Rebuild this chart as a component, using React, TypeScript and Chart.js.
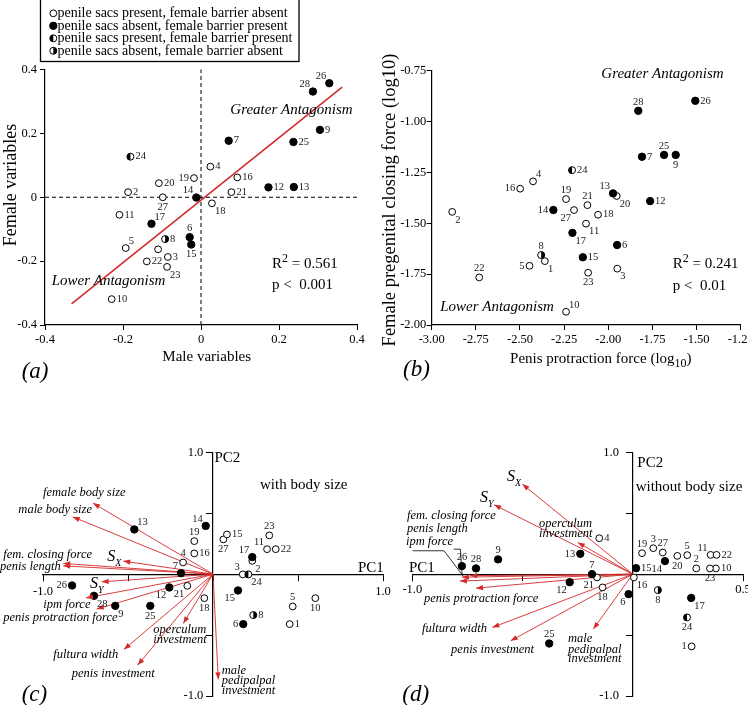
import React, { useEffect, useRef } from 'react';
import { Chart, registerables } from 'chart.js';

Chart.register(...registerables);

const FONT = "'Liberation Serif', 'Times New Roman', Times, serif";
const RED = '#d52a2a';
Chart.defaults.font.family = FONT;

// ===== legend =====
const legendLabels = [
  'penile sacs present, female barrier absent',
  'penile sacs absent, female barrier present',
  'penile sacs present, female barrier present',
  'penile sacs absent, female barrier absent',
];
const legendTypes = ['o', 'f', 'l', 'r'];

// ===== panel (a) =====
const aIds = ['1','2','3','4','5','6','7','8','9','10','11','12','13','14','15','16','17','18','19','20','21','22','23','24','25','26','27','28'];
const aX = [-0.110,-0.187,-0.085,0.024,-0.193,-0.029,0.071,-0.092,0.305,-0.229,-0.209,0.173,0.238,-0.012,-0.025,0.093,-0.127,0.028,-0.018,-0.108,0.078,-0.139,-0.087,-0.181,0.237,0.329,-0.098,0.287];
const aY = [-0.163,0.016,-0.187,0.096,-0.159,-0.125,0.177,-0.131,0.211,-0.319,-0.055,0.031,0.032,-0.001,-0.148,0.062,-0.083,-0.019,0.060,0.044,0.016,-0.201,-0.218,0.127,0.173,0.357,0.000,0.331];
const aTypes = ['o','o','o','o','o','f','f','r','f','o','o','f','f','f','f','o','f','o','o','o','o','o','o','l','f','f','o','f'];
const aLabelPos = ['-','r','r','r','tr','t','r','r','r','r','r','r','r','tl','b','r','tr','br','l','r','r','r','br','r','r','tl','b','tl'];
const aFitX = [-0.332, 0.362];
const aFitY = [-0.334, 0.345];
const aTickVals = [-0.4, -0.2, 0, 0.2, 0.4];
const aTickLabels = ['-0.4', '-0.2', '0', '0.2', '0.4'];

// ===== panel (b) =====
const bIds = aIds;
const bX = [-2.359,-2.884,-1.949,-2.426,-2.446,-1.950,-1.809,-2.380,-1.618,-2.239,-2.126,-1.763,-1.973,-2.311,-2.144,-2.499,-2.203,-2.058,-2.239,-1.952,-2.118,-2.731,-2.114,-2.205,-1.684,-1.507,-2.194,-1.830];
const bY = [-1.686,-1.444,-1.723,-1.294,-1.709,-1.607,-1.173,-1.656,-1.164,-1.935,-1.502,-1.391,-1.353,-1.435,-1.667,-1.330,-1.547,-1.458,-1.381,-1.366,-1.411,-1.766,-1.743,-1.239,-1.164,-0.898,-1.435,-0.947];
const bTypes = aTypes;
const bLabelPos = ['br','br','br','tr','l','r','r','t','b','tr','br','r','tl','l','r','l','br','r','t','br','t','t','b','r','t','r','bl','t'];
const bXTickVals = [-3, -2.75, -2.5, -2.25, -2, -1.75, -1.5, -1.25];
const bXTickLabels = ['-3.00', '-2.75', '-2.50', '-2.25', '-2.00', '-1.75', '-1.50', '-1.25'];
const bYTickVals = [-2, -1.75, -1.5, -1.25, -1, -0.75];
const bYTickLabels = ['-2.00', '-1.75', '-1.50', '-1.25', '-1.00', '-0.75'];

// ===== panel (c) =====
const cIds = ['1','2','3','4','5','6','7','8','9','10','11','12','13','14','15','16','17','18','19','21','22','23','24','25','26','27','28','15'];
const cX = [0.451,0.231,0.175,-0.176,0.469,0.178,-0.188,0.237,-0.575,0.602,0.318,-0.257,-0.463,-0.043,0.147,-0.110,0.231,-0.051,-0.110,-0.151,0.369,0.331,0.208,-0.369,-0.829,0.061,-0.700,0.082];
const cY = [-0.410,0.109,-0.002,0.096,-0.265,-0.410,0.008,-0.336,-0.260,-0.197,0.205,-0.109,0.367,0.396,-0.134,0.170,0.140,-0.197,0.271,-0.096,0.205,0.318,-0.002,-0.260,-0.093,0.285,-0.178,0.326];
const cTypes = ['o','o','o','o','o','f','f','r','f','o','o','f','f','f','f','o','f','o','o','o','o','o','l','f','f','o','f','o'];
const cLabelPos = ['r','br','tl','t','t','l','tl','r','br','b','tl','bl','tr','tl','bl','r','tl','b','t','bl','r','t','br','b','l','b','br','r'];
const cArrowNames = ['female body size','male body size','fem. closing force','penis length','SX','SY','ipm force','penis protraction force','operculum investment','fultura width','penis investment','male pedipalpal investment'];
const cArrowX = [-0.706,-0.825,-0.881,-0.881,-0.528,-0.655,-0.747,-0.684,-0.175,-0.524,-0.443,0.031];
const cArrowY = [0.583,0.470,0.088,0.068,0.107,-0.063,-0.195,-0.287,-0.405,-0.618,-0.747,-0.864];
const cXTickVals = [-1, -0.5, 0, 0.5, 1];
const cXTickLabels = ['-1.0', '', '', '', '1.0'];
const pcYTickVals = [-1, -0.5, 0, 0.5, 1];
const pcYTickLabels = ['-1.0', '', '', '', '1.0'];

// ===== panel (d) =====
const dIds = aIds;
const dX = [0.267,0.288,0.093,-0.152,0.247,-0.019,-0.185,0.114,-0.611,0.377,0.353,-0.286,-0.238,0.146,0.015,0.005,0.265,-0.137,0.042,0.202,-0.162,0.380,0.350,0.246,-0.379,-0.775,0.136,-0.711];
const dY = [-0.593,0.047,0.213,0.295,0.156,-0.164,0.000,-0.131,0.121,0.047,0.158,-0.066,0.167,0.107,0.049,-0.027,-0.195,-0.109,0.172,0.150,-0.027,0.158,0.047,-0.355,-0.569,0.066,0.178,0.047];
const dTypes = aTypes;
const dLabelPos = ['l','t','t','r','t','bl','t','b','t','r','tl','bl','l','bl','r','br','br','b','t','b','bl','r','b','b','t','t','t','t'];
const dArrowNames = ['SX','SY','operculum investment','fem. closing force','penis length','ipm force','penis protraction force','fultura width','penis investment','male pedipalpal investment'];
const dArrowX = [-0.501,-0.629,-0.249,-0.775,-0.784,-0.738,-0.711,-0.637,-0.554,-0.179];
const dArrowY = [0.739,0.569,0.260,-0.025,-0.057,-0.012,-0.115,-0.437,-0.547,-0.451];
const dXTickVals = [-1, -0.5, 0, 0.5];
const dXTickLabels = ['-1.0', '', '', '0.5'];
const dLeader1X = [-0.999, -0.856, -0.768];
const dLeader1Y = [0.192, 0.192, -0.019];
const dLeader2X = [-0.812, -0.782, -0.774];
const dLeader2Y = [0.205, 0.205, -0.008];

// ===== helpers =====
type Seg = { t: string; s: number; i?: boolean; sup?: boolean; sub?: boolean };
type TextItem = { x: number; y: number; px?: boolean; align?: string; rot?: number; segs: Seg[]; color?: string };

const T = (x: number, y: number, t: string, s: number, o: any = {}): TextItem => ({
  x, y, px: !!o.px, align: o.align || 'left', rot: o.rot, segs: [{ t, s, i: !!o.i }],
});

const MARK: any = {
  o: { r: 3.4, bg: '#fff' },
  f: { r: 3.7, bg: '#000' },
  l: { r: 3.5, bg: '#fff', half: 'l' },
  r: { r: 3.5, bg: '#fff', half: 'r' },
};

function drawMarker(ctx: CanvasRenderingContext2D, x: number, y: number, type: string) {
  const m = MARK[type];
  ctx.save();
  ctx.fillStyle = m.bg;
  ctx.beginPath(); ctx.arc(x, y, m.r, 0, Math.PI * 2); ctx.fill();
  if (m.half) {
    ctx.fillStyle = '#000';
    ctx.beginPath();
    ctx.arc(x, y, m.r, -Math.PI / 2, Math.PI / 2, m.half === 'l');
    ctx.closePath(); ctx.fill();
  }
  ctx.strokeStyle = '#000'; ctx.lineWidth = 1;
  ctx.beginPath(); ctx.arc(x, y, m.r, 0, Math.PI * 2); ctx.stroke();
  ctx.restore();
}

const OFF: any = {
  r: [5, 0, 'left'], l: [-5, 0, 'right'], t: [0, -9, 'center'], b: [0, 10, 'center'],
  tl: [-3, -7, 'right'], tr: [3, -7, 'left'], bl: [-3, 8, 'right'], br: [3, 8, 'left'],
};

function segFont(s: Seg) { return `${s.i ? 'italic ' : ''}${s.s}px ${FONT}`; }

function drawRich(ctx: CanvasRenderingContext2D, chart: any, it: TextItem) {
  const X = it.px ? it.x : chart.scales.x.getPixelForValue(it.x);
  const Y = it.px ? it.y : chart.scales.y.getPixelForValue(it.y);
  const mains = it.segs.filter(s => !s.sup && !s.sub).map(s => s.s);
  const main = Math.max(...mains);
  ctx.save();
  ctx.translate(X, Y);
  if (it.rot) ctx.rotate(it.rot);
  ctx.textBaseline = 'alphabetic';
  ctx.textAlign = 'left';
  ctx.fillStyle = it.color || '#000';
  const widths = it.segs.map(s => { ctx.font = segFont(s); return ctx.measureText(s.t).width; });
  const total = widths.reduce((a, b) => a + b, 0);
  let x0 = it.align === 'center' ? -total / 2 : it.align === 'right' ? -total : 0;
  const base = main * 0.33;
  it.segs.forEach((s, k) => {
    ctx.font = segFont(s);
    const dy = s.sup ? -main * 0.4 : s.sub ? main * 0.28 : 0;
    ctx.fillText(s.t, x0, base + dy);
    x0 += widths[k];
  });
  ctx.restore();
}

type Axis = { min: number; max: number; vals: number[]; labels: string[]; tick: number; pad: number };
type Line = { xs: number[]; ys: number[]; color: string; width: number; dash?: number[]; arrow?: boolean };
type Spec = {
  w: number; h: number; area: number[]; center: boolean; x: Axis; y: Axis;
  pts: { ids: string[]; xs: number[]; ys: number[]; types: string[]; pos: string[] };
  lines: Line[]; texts: TextItem[]; legend?: boolean;
};

function scaleOpts(ax: Axis, isX: boolean, spec: Spec) {
  const [l, , , b] = spec.area;
  return {
    type: 'linear',
    position: spec.center ? (isX ? { y: 0 } : { x: 0 }) : (isX ? 'bottom' : 'left'),
    min: ax.min,
    max: ax.max,
    afterBuildTicks: (s: any) => { s.ticks = ax.vals.map(v => ({ value: v })); },
    afterFit: (s: any) => {
      if (!spec.center) { if (isX) s.height = spec.h - b; else s.width = l; }
      s.paddingLeft = 0; s.paddingRight = 0; s.paddingTop = 0; s.paddingBottom = 0;
    },
    ticks: {
      display: !(spec.center && !isX),
      autoSkip: false, maxRotation: 0, minRotation: 0, padding: ax.pad, color: '#000',
      font: { family: FONT, size: 12.5 },
      callback: (_v: any, i: number) => ax.labels[i],
    },
    grid: { display: true, drawOnChartArea: false, drawTicks: true, tickLength: ax.tick, color: '#000', lineWidth: 1 },
    border: { display: true, color: '#000', width: 1.2 },
    title: { display: false },
  };
}

function makeDecor(spec: Spec) {
  return {
    id: 'decor',
    afterDatasetDraw(chart: any, args: any) {
      const ds = chart.data.datasets[args.index];
      if (!ds.markType) return;
      const ctx: CanvasRenderingContext2D = chart.ctx;
      args.meta.data.forEach((el: any) => drawMarker(ctx, el.x, el.y, ds.markType));
    },
    afterDatasetsDraw(chart: any) {
      const ctx: CanvasRenderingContext2D = chart.ctx;
      // arrowheads
      chart.data.datasets.forEach((ds: any, i: number) => {
        if (!ds.arrow) return;
        const meta = chart.getDatasetMeta(i);
        const p0 = meta.data[0], p1 = meta.data[meta.data.length - 1];
        const ang = Math.atan2(p1.y - p0.y, p1.x - p0.x);
        const L = 7, W = 2.6;
        ctx.save();
        ctx.translate(p1.x, p1.y);
        ctx.rotate(ang);
        ctx.fillStyle = RED;
        ctx.beginPath(); ctx.moveTo(0, 0); ctx.lineTo(-L, -W); ctx.lineTo(-L, W); ctx.closePath(); ctx.fill();
        ctx.restore();
      });
      // point labels
      chart.data.datasets.forEach((ds: any, i: number) => {
        if (!ds.ptLabels) return;
        const meta = chart.getDatasetMeta(i);
        meta.data.forEach((el: any, j: number) => {
          const code = ds.ptPos[j];
          if (!OFF[code]) return;
          const [dx, dy, al] = OFF[code];
          ctx.save();
          ctx.font = `10.5px ${FONT}`;
          ctx.fillStyle = '#1a1a1a';
          ctx.textAlign = al;
          ctx.textBaseline = 'middle';
          ctx.fillText(ds.ptLabels[j], el.x + dx, el.y + dy);
          ctx.restore();
        });
      });
      // y tick labels of centred axes
      if (spec.center) {
        const xs = chart.scales.x, ys = chart.scales.y;
        const ax0 = xs.getPixelForValue(0);
        ctx.save();
        ctx.font = `12.5px ${FONT}`; ctx.fillStyle = '#000'; ctx.textAlign = 'right'; ctx.textBaseline = 'middle';
        ys.ticks.forEach((tk: any, i: number) => {
          const lb = spec.y.labels[i];
          if (!lb) return;
          ctx.fillText(lb, ax0 - spec.y.tick - spec.y.pad, ys.getPixelForValue(tk.value));
        });
        ctx.restore();
      }
      spec.texts.forEach(t => drawRich(ctx, chart, t));
      if (spec.legend) {
        ctx.save();
        ctx.strokeStyle = '#000'; ctx.lineWidth = 1.3;
        ctx.strokeRect(40.5, -2, 258.5, 63.5);
        ctx.font = `14px ${FONT}`; ctx.fillStyle = '#000'; ctx.textBaseline = 'middle'; ctx.textAlign = 'left';
        legendLabels.forEach((lab, k) => {
          const y = 13.3 + k * 12.5;
          drawMarker(ctx, 53.3, y, legendTypes[k]);
          ctx.fillText(lab, 57.5, y + 0.5);
        });
        ctx.restore();
      }
    },
  };
}

function buildConfig(spec: Spec): any {
  const [l, t, r, b] = spec.area;
  const datasets: any[] = [];
  const ord: any = { f: 0, l: 1, r: 1, o: 2 };
  ['f', 'l', 'r', 'o'].forEach(tp => {
    const idx = spec.pts.types.map((v, i) => (v === tp ? i : -1)).filter(i => i >= 0);
    if (!idx.length) return;
    datasets.push({
      type: 'scatter',
      data: idx.map(i => ({ x: spec.pts.xs[i], y: spec.pts.ys[i] })),
      pointStyle: 'circle', pointRadius: MARK[tp].r, pointHoverRadius: MARK[tp].r,
      pointBackgroundColor: 'rgba(0,0,0,0)', pointBorderColor: 'rgba(0,0,0,0)', pointBorderWidth: 0,
      showLine: false, markType: tp,
      ptLabels: idx.map(i => spec.pts.ids[i]), ptPos: idx.map(i => spec.pts.pos[i]),
      order: ord[tp],
    });
  });
  spec.lines.forEach(ln => {
    datasets.push({
      type: 'scatter', showLine: true,
      data: ln.xs.map((x, i) => ({ x, y: ln.ys[i] })),
      borderColor: ln.color, borderWidth: ln.width, borderDash: ln.dash || [],
      pointRadius: 0, pointHoverRadius: 0, fill: false, arrow: !!ln.arrow, order: 5, clip: false,
    });
  });
  return {
    type: 'scatter',
    data: { datasets },
    options: {
      responsive: false, animation: false, devicePixelRatio: 1, events: [],
      layout: {
        padding: spec.center
          ? { left: l, top: t, right: spec.w - r, bottom: spec.h - b }
          : { left: 0, top: t, right: spec.w - r, bottom: 0 },
      },
      plugins: { legend: { display: false }, tooltip: { enabled: false }, title: { display: false } },
      scales: { x: scaleOpts(spec.x, true, spec), y: scaleOpts(spec.y, false, spec) },
    },
    plugins: [makeDecor(spec)],
  };
}

// ===== specs =====
const arrowLines = (xs: number[], ys: number[]): Line[] =>
  xs.map((x, i) => ({ xs: [0, x], ys: [0, ys[i]], color: RED, width: 0.9, arrow: true }));

const lab = (x: number, y: number, t: string) => T(x, y, t, 12.5, { i: true });
const sLab = (x: number, y: number, sub: string): TextItem => ({
  x, y, align: 'left', segs: [{ t: 'S', s: 16, i: true }, { t: sub, s: 10, i: true, sub: true }],
});

const specA: Spec = {
  w: 374, h: 400, area: [45, 69.5, 357, 325], center: false,
  x: { min: -0.4, max: 0.4, vals: aTickVals, labels: aTickLabels, tick: 5, pad: 2.5 },
  y: { min: -0.4, max: 0.4, vals: aTickVals, labels: aTickLabels, tick: 5, pad: 3 },
  pts: { ids: aIds, xs: aX, ys: aY, types: aTypes, pos: aLabelPos },
  lines: [
    { xs: [0, 0], ys: [-0.4, 0.4], color: '#000', width: 1, dash: [4, 3] },
    { xs: [-0.4, 0.4], ys: [0, 0], color: '#000', width: 1, dash: [4, 3] },
    { xs: aFitX, ys: aFitY, color: RED, width: 1.6 },
  ],
  texts: [
    T(206.7, 356, 'Male variables', 15, { px: true, align: 'center' }),
    T(10, 185, 'Female variables', 18, { px: true, align: 'center', rot: -Math.PI / 2 }),
    T(21.7, 370, '(a)', 23, { px: true, i: true }),
    T(0.232, 0.276, 'Greater Antagonism', 15, { i: true, align: 'center' }),
    T(-0.237, -0.260, 'Lower Antagonism', 15, { i: true, align: 'center' }),
    { x: 0.182, y: -0.207, align: 'left', segs: [{ t: 'R', s: 15 }, { t: '2', s: 12, sup: true }, { t: ' = 0.561', s: 15 }] },
    T(0.182, -0.272, 'p <  0.001', 15),
  ],
  legend: true,
};

const specB: Spec = {
  w: 374, h: 400, area: [57.7, 70.7, 366.7, 325], center: false,
  x: { min: -3, max: -1.25, vals: bXTickVals, labels: bXTickLabels, tick: 5, pad: 2.5 },
  y: { min: -2, max: -0.75, vals: bYTickVals, labels: bYTickLabels, tick: 5, pad: 0.5 },
  pts: { ids: bIds, xs: bX, ys: bY, types: bTypes, pos: bLabelPos },
  lines: [],
  texts: [
    { x: 226.8, y: 358, px: true, align: 'center', segs: [{ t: 'Penis protraction force (log', s: 15 }, { t: '10', s: 12, sub: true }, { t: ')', s: 15 }] },
    T(14.5, 200, 'Female pregenital closing force (log10)', 18.5, { px: true, align: 'center', rot: -Math.PI / 2 }),
    T(29, 368, '(b)', 23, { px: true, i: true }),
    T(-1.693, -0.761, 'Greater Antagonism', 15, { i: true, align: 'center' }),
    T(-2.630, -1.907, 'Lower Antagonism', 15, { i: true, align: 'center' }),
    { x: -1.635, y: -1.697, align: 'left', segs: [{ t: 'R', s: 15 }, { t: '2', s: 12, sup: true }, { t: ' = 0.241', s: 15 }] },
    T(-1.635, -1.804, 'p <  0.01', 15),
  ],
};

const specC: Spec = {
  w: 400, h: 305, area: [43, 52.3, 383, 296], center: true,
  x: { min: -1, max: 1, vals: cXTickVals, labels: cXTickLabels, tick: 6, pad: 4 },
  y: { min: -1, max: 1, vals: pcYTickVals, labels: pcYTickLabels, tick: 6, pad: 3.7 },
  pts: { ids: cIds, xs: cX, ys: cY, types: cTypes, pos: cLabelPos },
  lines: arrowLines(cArrowX, cArrowY),
  texts: [
    T(21.7, 293.3, '(c)', 23, { px: true, i: true }),
    T(260, 84, 'with body size', 15, { px: true }),
    T(214.5, 57.3, 'PC2', 15, { px: true }),
    T(358, 166.7, 'PC1', 15, { px: true }),
    lab(-1.0, 0.675, 'female body size'),
    lab(-1.145, 0.539, 'male body size'),
    lab(-1.234, 0.170, 'fem. closing force'),
    lab(-1.253, 0.068, 'penis length'),
    sLab(-0.622, 0.148, 'X'),
    sLab(-0.724, -0.071, 'Y'),
    lab(-0.998, -0.240, 'ipm force'),
    lab(-1.234, -0.350, 'penis protraction force'),
    lab(-0.351, -0.451, 'operculum'),
    lab(-0.351, -0.533, 'investment'),
    lab(-0.939, -0.651, 'fultura width'),
    lab(-0.831, -0.810, 'penis investment'),
    lab(0.051, -0.782, 'male'),
    lab(0.051, -0.870, 'pedipalpal'),
    lab(0.051, -0.952, 'investment'),
  ],
};

const specD: Spec = {
  w: 374, h: 305, area: [38.3, 52.3, 369, 296], center: true,
  x: { min: -1, max: 0.5, vals: dXTickVals, labels: dXTickLabels, tick: 6, pad: 2.2 },
  y: { min: -1, max: 1, vals: pcYTickVals, labels: pcYTickLabels, tick: 6, pad: 7.8 },
  pts: { ids: dIds, xs: dX, ys: dY, types: dTypes, pos: dLabelPos },
  lines: [
    ...arrowLines(dArrowX, dArrowY),
    { xs: dLeader1X, ys: dLeader1Y, color: '#000', width: 0.8 },
    { xs: dLeader2X, ys: dLeader2Y, color: '#000', width: 0.8 },
  ],
  texts: [
    T(28.3, 293.3, '(d)', 23, { px: true, i: true }),
    T(261.7, 86, 'without body size', 15, { px: true }),
    T(263.3, 61.7, 'PC2', 15, { px: true }),
    T(35, 166.7, 'PC1', 15, { px: true }),
    sLab(-0.571, 0.807, 'X'),
    sLab(-0.693, 0.632, 'Y'),
    lab(-0.425, 0.424, 'operculum'),
    lab(-0.425, 0.336, 'investment'),
    lab(-1.024, 0.484, 'fem. closing force'),
    lab(-1.024, 0.383, 'penis length'),
    lab(-1.029, 0.273, 'ipm force'),
    lab(-0.947, -0.191, 'penis protraction force'),
    lab(-0.956, -0.437, 'fultura width'),
    lab(-0.824, -0.610, 'penis investment'),
    lab(-0.294, -0.519, 'male'),
    lab(-0.294, -0.610, 'pedipalpal'),
    lab(-0.294, -0.684, 'investment'),
  ],
};

function Panel({ spec, left, top }: { spec: Spec; left: number; top: number }) {
  const ref = useRef<HTMLCanvasElement>(null);
  useEffect(() => {
    const chart = new Chart(ref.current as HTMLCanvasElement, buildConfig(spec));
    return () => chart.destroy();
  }, [spec]);
  return (
    <canvas
      ref={ref}
      width={spec.w}
      height={spec.h}
      style={{ position: 'absolute', left, top, width: spec.w, height: spec.h }}
    />
  );
}

export default function App() {
  return (
    <div style={{ position: 'absolute', left: 0, top: 0, width: 748, height: 705, background: '#fff', overflow: 'hidden' }}>
      <Panel spec={specA} left={0} top={0} />
      <Panel spec={specB} left={374} top={0} />
      <Panel spec={specC} left={0} top={400} />
      <Panel spec={specD} left={374} top={400} />
    </div>
  );
}
